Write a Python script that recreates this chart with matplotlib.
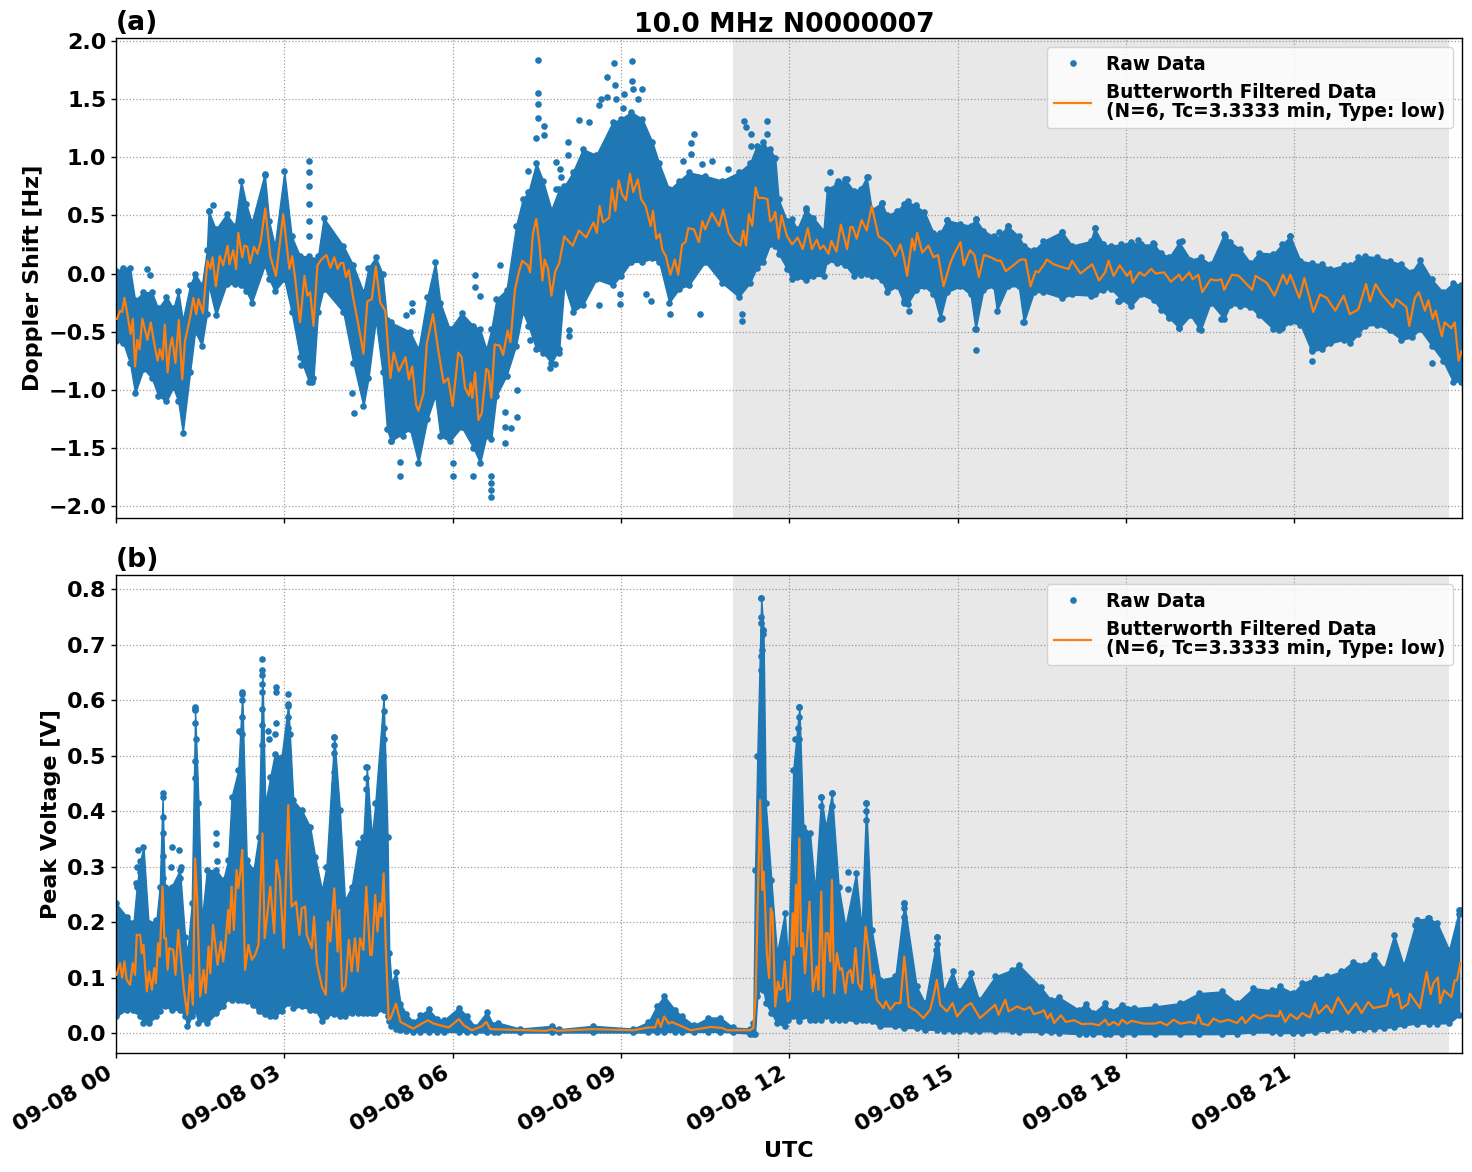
import numpy as np
import matplotlib
matplotlib.use('Agg')
import matplotlib.pyplot as plt
import matplotlib.dates as mdates

# Doppler shift: extent of the raw samples through the day (hours, Hz)
doppler_env_t = [0, .13, .25, .34, .49, .64, .75, .9, 1.02, 1.11, 1.19, 1.32, 1.41, 1.53, 1.62, 1.65, 1.78, 1.97, 2.12, 2.23, 2.32, 2.42, 2.65, 2.73, 2.83, 3.0, 3.13, 3.28, 3.44, 3.52, 3.6, 3.7, 4.05, 4.23, 4.41, 4.5, 4.63, 4.75, 4.83, 4.9, 5.24, 5.39, 5.55, 5.69, 5.78, 5.95, 6.16, 6.37, 6.49, 6.6, 6.69, 6.78, 6.96, 7.13, 7.25, 7.35, 7.49, 7.61, 7.76, 7.9, 7.99, 8.14, 8.32, 8.56, 8.85, 9.0, 9.18, 9.38, 9.56, 9.68, 9.86, 10.04, 10.21, 10.5, 10.8, 11.1, 11.3, 11.42, 11.54,
                 11.66, 11.75, 11.81, 11.96, 12.05, 12.14, 12.29, 12.43, 12.61, 12.67, 12.85, 13.0, 13.15, 13.27, 13.38, 13.47, 13.65, 13.74, 13.92, 14.04, 14.11, 14.26, 14.41, 14.57, 14.69, 14.81, 15.05, 15.23, 15.32, 15.46, 15.64, 15.7, 15.89, 16.09, 16.18, 16.36, 16.53, 16.86, 17.04, 17.37, 17.44, 17.6,
                 17.73, 17.91, 18.09, 18.27, 18.5, 18.62, 18.77, 18.95, 19.15, 19.33, 19.51, 19.75, 19.86, 20.04, 20.22, 20.37, 20.63, 20.78, 20.93, 21.11, 21.31, 21.49, 21.64, 21.88, 21.99, 22.14, 22.26, 22.47, 22.7, 22.91, 23.09, 23.24, 23.45, 23.65, 23.83, 23.98]
doppler_hi = [.02, .05, .05, -.23, -.16, -.16, -.3, -.2, -.3, -.15, -.4, -.1, 0, -.1, .2, .54, .38, .51, .41, .8, .6, .44, .86, .45, .24, .88, .32, .15, .15, .12, .15, .48, .24, .07, -.16, .05, .14, 0, -.4, -.42, -.5, -.65, -.2, .1, -.25, -.48, -.34, -.45, -.48, -.65, -.48, -.22, -.14, .41, .64, .7, .95, .8, .55, .73, .75, .87, 1.07, 1.02, 1.3, 1.33, 1.39, 1.33, 1.13, .95, .72, .8, .87, .84, .8, .87, .95, 1.1, 1.1,
              1.07, .99, .64, .45, .47, .38, .55, .48, .37, .73, .77, .81, .71, .73, .83, .55, .61, .5, .54, .6, .62, .58, .53, .35, .35, .46, .43, .41, .47, .37, .32, .3, .41, .32, .24, .2, .28, .36, .24, .28, .39, .25,
              .24, .25, .27, .25, .25, .18, .14, .27, .12, .14, .08, .34, .27, .21, .09, .18, .17, .25, .32, .11, .09, .08, .04, .07, .07, .14, .15, .14, .11, .08, .01, .12, -.05, -.16, -.08, -.1]
doppler_lo = [-.58, -.6, -.77, -1.03, -.82, -.9, -1.05, -1.1, -.98, -1.1, -1.37, -.85, -.5, -.62, -.35, -.1, -.36, -.09, -.09, -.1, -.15, -.25, .07, -.05, -.15, -.05, -.33, -.72, -.93, -.9, -.33, -.13, -.33, -.77, -1.14, -.9, -.4, -.85, -1.34, -1.44, -1.34, -1.63, -1.25, -1.05, -1.4, -1.44, -1.32, -1.5, -1.63, -1.4, -1.42, -1.05, -.88, -.62, -.33, -.45, -.65, -.68, -.77, -.65, -.1, -.33, -.27, -.05, -.1, -.02, .1, .1, .13, .1, -.25, -.13, -.1, .1, -.08, -.2, -.08, .05, .1,
              .25, .24, .17, .04, -.05, -.03, -.06, -.02, -.02, .11, .09, .07, -.02, -.01, 0, -.02, -.06, -.16, -.11, -.25, -.26, -.14, -.11, -.18, -.39, -.16, -.11, -.18, -.48, -.14, -.11, -.32, -.11, -.11, -.42, -.16, -.16, -.21, -.18, -.19, -.18, -.14,
              -.13, -.22, -.28, -.18, -.23, -.31, -.38, -.47, -.36, -.49, -.25, -.39, -.27, -.28, -.29, -.36, -.48, -.47, -.42, -.44, -.67, -.65, -.6, -.57, -.6, -.52, -.45, -.44, -.49, -.57, -.55, -.48, -.62, -.75, -.93, -.93]

# Doppler shift: isolated raw samples standing clear of the main cloud
doppler_dots_t = [.56, .61, 1.72, 1.65, 2.65, 3.44, 3.44, 3.44, 3.44, 3.44, 3.44, 3.29, 3.5, 4.25, 4.21, 4.91, 5.07, 5.07, 5.11, 5.27, 5.27, 5.16, 7.52, 7.52, 7.52, 7.52, 7.63, 7.63, 7.49, 7.34, 6.4, 6.4, 6.49, 6.01, 6.01, 6.37, 6.69, 6.69, 6.69, 6.69, 7.15, 7.15, 6.93, 6.93, 7.04, 6.94, 6.84, 8.87, 9.19, 8.76, 9.19, 8.89, 9.21, 9.37, 9.05, 8.64, 8.76, 8.91, 9.3, 8.6, 9.03, 8.25, 8.43, 8.05, 8.05, 7.85, 7.91, 7.94, 7.85, 10.31, 10.25, 10.25, 10.11, 10.63, 10.45, 9.86, 8.6, 8.99, 8.99, 9.45, 9.53, 9.87, 10.4, 11.16, 11.16, 8.08, 8.08, 7.37, 7.82, 7.73, 7.9, 11.19, 11.22, 11.32, 11.6, 11.6, 11.54, 11.32, 10.91, 12.72, 12.87, 13.02, 13.4, 12.3, 13.65, 14.13, 14.04, 14.73, 15.32, 15.31, 16.16, 15.33, 14.81, 15.89, 15.73, 16.86, 17.44, 17.87, 14.26, 14.1, 18.21, 18.49, 19, 19.76, 19.76, 20.93, 20.93, 17.85, 18.77, 18.94, 19.3, 19.7, 20.72, 20.89, 21.31, 21.32, 23.45, 21.48]
doppler_dots = [.04, -.01, .59, .54, .85, .97, .87, .75, .6, .45, .32, -.79, -.93, -1.2, -1.03, -1.44, -1.62, -1.74, -1.4, -.25, -.32, -.36, 1.84, 1.55, 1.46, 1.34, 1.27, 1.19, 1.17, .88, -.01, -.12, -.19, -1.63, -1.74, -1.74, -1.74, -1.8, -1.86, -1.92, -1.0, -1.23, -1.19, -1.32, -1.33, -1.46, .07, 1.81, 1.83, 1.69, 1.66, 1.62, 1.59, 1.59, 1.54, 1.5, 1.52, 1.5, 1.5, 1.45, 1.42, 1.32, 1.3, 1.13, 1.02, .96, .9, .83, .73, 1.2, 1.12, 1.03, .97, .97, .94, .73, -.27, -.18, -.26, -.18, -.24, -.35, -.35, -.41, -.35, -.49, -.54, -.57, -.78, -.81, -.68, 1.31, 1.26, 1.2, 1.31, 1.2, 1.13, 1.1, .9, .87, .8, .81, .83, .56, .61, -.32, -.24, -.38, -.66, -.48, -.42, .47, .46, .41, .36, .36, .39, -.24, .59, .61, .29, .26, .28, .32, .27, .32, .25, -.24, -.37, -.47, -.48, -.39, -.49, -.41, -.75, -.65, -.77, -.62]

# Doppler shift: filtered trace
doppler_filt_t = [.02, .07, .11, .15, .2, .26, .3, .34, .38, .42, .47, .52, .56, .62, .67, .74, .78, .83, .87, .92, .96, 1.0, 1.06, 1.12, 1.18, 1.23, 1.32, 1.38, 1.43, 1.47, 1.55, 1.63, 1.68, 1.72, 1.78, 1.85, 1.91, 1.99, 2.02, 2.09, 2.14, 2.18, 2.25, 2.29, 2.34, 2.39, 2.46, 2.52, 2.58, 2.66, 2.75, 2.85, 2.98, 3.09, 3.14, 3.19, 3.28, 3.36, 3.41, 3.46, 3.52, 3.59, 3.66, 3.75, 3.82, 3.89, 3.95, 4.0, 4.05, 4.1, 4.15, 4.22, 4.32, 4.41, 4.48, 4.56, 4.63, 4.71, 4.8, 4.89, 4.95, 5.04, 5.16, 5.22, 5.28, 5.35, 5.39, 5.48, 5.54, 5.65, 5.75, 5.84, 5.92, 6.0, 6.1, 6.16, 6.22, 6.29, 6.32, 6.35, 6.4, 6.46, 6.52, 6.6, 6.64, 6.69, 6.75, 6.84, 6.9, 6.98, 7.03, 7.11, 7.18, 7.24, 7.34, 7.38, 7.43, 7.49, 7.55, 7.6, 7.64, 7.7, 7.76, 7.83, 7.9, 7.99, 8.08, 8.14, 8.25, 8.38, 8.51, 8.57, 8.62, 8.68, 8.79, 8.84, 8.9, 8.96, 9.02, 9.09, 9.16, 9.22, 9.3, 9.36, 9.44, 9.53, 9.57, 9.63, 9.69, 9.74, 9.8, 9.88, 9.96, 10.02, 10.09, 10.15, 10.2, 10.3, 10.39, 10.45, 10.5, 10.62, 10.75, 10.82, 10.92, 11.01, 11.13, 11.18, 11.23, 11.28, 11.34, 11.4, 11.45, 11.55, 11.61, 11.66, 11.71, 11.75, 11.81, 11.86, 11.96, 12.05, 12.15, 12.24, 12.33, 12.4, 12.49, 12.55, 12.61, 12.7, 12.75, 12.84, 12.92, 13.03, 13.09, 13.13, 13.2, 13.29, 13.38, 13.47, 13.59, 13.71, 13.8, 13.89, 13.98, 14.04, 14.1, 14.19, 14.23, 14.28, 14.37, 14.48, 14.57, 14.65, 14.75, 14.87, 14.94, 15.05, 15.11, 15.22, 15.3, 15.38, 15.47, 15.59, 15.71, 15.77, 15.86, 16.12, 16.21, 16.3, 16.39, 16.44, 16.53, 16.59, 16.71, 16.89, 16.98, 17.04, 17.19, 17.4, 17.52, 17.63, 17.69, 17.78, 17.89, 18.02, 18.08, 18.12, 18.24, 18.33, 18.45, 18.53, 18.68, 18.8, 18.95, 19.0, 19.13, 19.19, 19.29, 19.36, 19.51, 19.61, 19.7, 19.75, 19.89, 20.01, 20.13, 20.25, 20.31, 20.51, 20.65, 20.8, 20.87, 20.93, 21.09, 21.18, 21.34, 21.46, 21.58, 21.73, 21.88, 21.99, 22.14, 22.28, 22.35, 22.45, 22.56, 22.76, 22.82, 23.0, 23.05, 23.15, 23.22, 23.33, 23.39, 23.47, 23.52, 23.63, 23.68, 23.8, 23.86, 23.93, 23.98]
doppler_filt = [-.39, -.32, -.33, -.21, -.34, -.52, -.39, -.8, -.57, -.65, -.39, -.49, -.57, -.42, -.57, -.75, -.65, -.74, -.44, -.85, -.64, -.55, -.77, -.4, -.91, -.58, -.38, -.21, -.35, -.22, -.34, .11, .04, .14, -.11, .15, .07, .24, .08, .2, .04, .35, .14, .24, .23, .09, .23, .17, .28, .56, .15, -.02, .51, .04, .15, -.03, -.42, -.02, -.19, -.16, -.45, .07, .12, .16, .05, .14, .04, .09, .09, -.03, .03, -.19, -.44, -.69, -.24, -.22, .06, -.25, -.32, -.9, -.68, -.84, -.72, -.91, -.8, -1.13, -1.18, -1.03, -.6, -.35, -.68, -.94, -.9, -1.14, -.68, -.72, -.98, -1.05, -.94, -1.07, -.85, -1.26, -1.2, -.82, -.84, -1.07, -.61, -.62, -.7, -.49, -.59, -.14, .01, .11, .07, .01, .34, .47, .24, -.06, .12, .04, -.19, .02, .09, .32, .27, .24, .37, .31, .44, .35, .58, .44, .48, .73, .54, .8, .68, .63, .86, .7, .81, .64, .58, .41, .54, .3, .34, .2, .15, -.01, .12, -.01, .25, .27, .39, .38, .27, .45, .38, .52, .41, .55, .35, .28, .24, .37, .24, .51, .41, .74, .65, .65, .64, .45, .47, .53, .3, .5, .32, .25, .31, .21, .39, .21, .29, .21, .24, .17, .28, .19, .42, .21, .4, .4, .3, .46, .37, .58, .32, .28, .24, .15, .25, .14, -.02, .3, .2, .35, .18, .24, .14, .16, -.11, .09, .17, .27, .07, .2, .16, -.03, .16, .14, .11, .11, .02, .12, .12, -.11, .02, .01, .07, .12, .08, .05, .04, .11, 0, .08, -.06, .01, .11, -.02, .07, -.02, .02, -.08, .01, -.02, .04, 0, .01, -.07, -.01, -.06, .01, -.05, -.01, -.16, -.05, -.06, -.05, -.14, -.01, -.02, -.08, -.14, -.02, -.08, -.19, -.01, -.09, -.01, -.21, -.04, -.33, -.18, -.21, -.32, -.19, -.35, -.31, -.09, -.24, -.09, -.18, -.29, -.22, -.29, -.45, -.21, -.16, -.32, -.23, -.39, -.32, -.54, -.42, -.47, -.42, -.75, -.67]

# Peak voltage: extent of the raw samples through the day (hours, V)
voltage_env_t = [0, .19, .31, .37, .43, .49, .58, .72, .78, .83, .87, .99, 1.14, 1.23, 1.27, 1.35, 1.41, 1.47, 1.53, 1.62, 1.79, 1.91, 2.0, 2.06, 2.18, 2.25, 2.33, 2.45, 2.54, 2.61, 2.66, 2.75, 2.83, 2.95, 3.07, 3.16, 3.31, 3.46, 3.55, 3.67, 3.75, 3.89, 3.99, 4.08, 4.2, 4.32, 4.41, 4.47, 4.56, 4.62, 4.77, 4.84, 4.87, 4.91,
                 4.99, 5.07, 5.17, 5.3, 5.42, 5.57, 5.72, 5.84, 6.11, 6.26, 6.4, 6.61, 6.73, 6.8, 7.2, 7.77, 7.9, 8.5, 9.22, 9.49, 9.64, 9.77, 9.97, 10.09, 10.3, 10.56, 10.77, 11.0, 11.3, 11.36, 11.39, 11.43, 11.5, 11.54, 11.58, 11.68, 11.78, 11.92, 11.98, 12.07, 12.18, 12.25, 12.37, 12.46, 12.57, 12.65, 12.76, 12.88, 13.0, 13.19, 13.29, 13.37, 13.47, 13.62, 13.89, 14.05, 14.27, 14.42, 14.64, 14.75, 14.91, 15.02, 15.23, 15.38, 15.67, 15.97, 16.09, 16.48, 16.66, 16.8, 17.16, 17.28, 17.42, 17.63, 17.72, 17.93, 18.14, 18.52, 18.97, 19.3, 19.72, 19.98, 20.27, 20.6, 20.75, 20.98, 21.14, 21.37, 21.59, 21.84, 22.05, 22.25, 22.42, 22.6, 22.78, 22.95, 23.18, 23.4, 23.55, 23.76, 23.94]
voltage_hi = [.234, .21, .198, .264, .31, .336, .198, .204, .264, .426, .264, .264, .294, .174, .144, .234, .582, .414, .204, .294, .294, .276, .312, .426, .474, .612, .312, .294, .354, .654, .414, .462, .504, .498, .594, .42, .402, .372, .318, .258, .3, .534, .402, .24, .264, .342, .354, .48, .354, .414, .606, .354, .144, .09,
              .11, .053, .035, .02, .032, .043, .026, .023, .046, .03, .011, .038, .014, .019, .008, .013, .007, .013, .008, .02, .049, .067, .041, .03, .014, .028, .028, .01, .008, .018, .294, .5, .784, .727, .414, .276, .144, .216, .13, .474, .588, .372, .36, .258, .426, .372, .432, .264, .192, .288, .19, .414, .186, .096, .102, .234, .084, .054, .174, .075, .111, .075, .108, .06, .102, .114, .123, .083, .06, .065, .042, .053, .036, .054, .039, .051, .045, .048, .054, .072, .075, .054, .081, .077, .084, .072, .09, .099, .103, .111, .129, .123, .141, .115, .177, .122, .204, .207, .198, .15, .222]
voltage_lo = [.03, .042, .042, .04, .03, .018, .018, .03, .04, .05, .048, .042, .042, .03, .012, .03, .04, .018, .025, .018, .036, .048, .063, .06, .06, .06, .057, .05, .039, .04, .035, .03, .03, .04, .054, .045, .048, .042, .042, .021, .03, .035, .03, .03, .036, .036, .036, .036, .036, .036, .042, .03, .021, .012,
              .008, .006, .003, .002, .002, .002, .002, .002, .002, .002, .001, .001, .001, .001, .001, .001, .001, .001, .001, .001, .002, .002, .002, .002, .002, .002, .002, .001, -.001, -.001, -.001, .066, .084, .078, .054, .036, .018, .012, .024, .03, .021, .03, .024, .024, .024, .03, .024, .024, .024, .021, .024, .024, .021, .012, .012, .009, .009, .006, .006, .004, .003, .003, .003, .003, .003, .003, .002, .002, .001, 0, -.002, -.002, -.002, -.002, -.002, -.002, -.002, -.002, -.002, -.002, -.002, -.001, .001, .001, 0, 0, 0, .002, .005, .008, .005, .007, .008, .009, .011, .014, .017, .017, .017, .018, .032]

# Peak voltage: raw samples stacked in the narrow bursts
voltage_dots_t = [.4, .38, .36, .43, .83, .83, .84, .83, .83, .99, .98, .99, 1.12, 1.15, 1.14, 1.41, 1.41, 1.41, 1.43, 1.41, 1.4, 2.25, 2.25, 2.25, 2.24, 2.2, 2.61, 2.61, 2.61, 2.61, 2.61, 2.61, 2.61, 2.71, 2.72, 2.86, 2.86, 2.86, 2.83, 3.07, 3.07, 3.07, 3.06, 3.1, 3.89, 3.89, 3.89, 3.88, 3.89, 4.46, 4.46, 4.46, 4.77, 4.77, 4.77, 4.78, 4.76, 1.78, 1.78, 1.8, 11.5, 11.5, 11.5, 11.54, 11.53, 11.52, 11.5, 11.5, 12.18, 12.17, 12.16, 12.18, 12.11, 12.57, 12.57, 12.76, 12.76, 13.37, 13.37, 13.36, 13.04, 13.04, 14.05, 14.05, 14.05, 14.64, 14.64, 14.62, 23.38, 23.34, 23.18, 23.16, 23.95, 23.94]
voltage_dots = [.33, .3, .27, .29, .432, .39, .36, .32, .28, .336, .3, .26, .33, .3, .28, .588, .585, .56, .53, .49, .46, .615, .6, .57, .54, .545, .675, .645, .63, .615, .585, .555, .52, .545, .53, .624, .615, .56, .54, .612, .59, .57, .55, .54, .534, .52, .505, .47, .45, .48, .46, .44, .606, .58, .55, .53, .5, .36, .34, .31, .784, .75, .74, .727, .72, .69, .68, .655, .588, .57, .55, .53, .53, .426, .41, .432, .41, .414, .4, .385, .29, .26, .234, .225, .21, .174, .16, .15, .207, .2, .204, .195, .222, .215]

# Peak voltage: filtered trace
voltage_filt_t = [.01, .07, .11, .15, .19, .25, .3, .34, .37, .43, .46, .49, .55, .59, .64, .68, .71, .75, .78, .83, .86, .89, .92, .95, 1.02, 1.06, 1.11, 1.17, 1.21, 1.27, 1.32, 1.37, 1.41, 1.45, 1.5, 1.56, 1.6, 1.65, 1.68, 1.73, 1.81, 1.87, 1.91, 1.95, 2.0, 2.02, 2.06, 2.1, 2.15, 2.18, 2.22, 2.25, 2.3, 2.36, 2.42, 2.48, 2.54, 2.61, 2.65, 2.75, 2.82, 2.86, 2.92, 2.99, 3.07, 3.13, 3.21, 3.27, 3.31, 3.37, 3.4, 3.49, 3.53, 3.58, 3.67, 3.74, 3.78, 3.82, 3.89, 3.95, 3.98, 4.03, 4.09, 4.15, 4.2, 4.26, 4.31, 4.35, 4.41, 4.46, 4.53, 4.56, 4.62, 4.66, 4.7, 4.73, 4.77, 4.81, 4.86, 4.89, 4.99, 5.07, 5.22, 5.3, 5.45, 5.56, 5.66, 5.93, 6.11, 6.2, 6.34, 6.52, 6.6, 6.67, 7.67, 7.77, 7.86, 8.5, 9.22, 9.49, 9.61, 9.66, 9.71, 9.77, 9.85, 9.91, 9.97, 10.09, 10.24, 10.6, 10.81, 10.89, 11.3, 11.36, 11.4, 11.48, 11.52, 11.54, 11.56, 11.6, 11.64, 11.67, 11.7, 11.75, 11.8, 11.83, 11.88, 11.92, 11.97, 12.01, 12.06, 12.08, 12.12, 12.14, 12.18, 12.21, 12.24, 12.28, 12.36, 12.42, 12.49, 12.52, 12.57, 12.61, 12.65, 12.69, 12.73, 12.76, 12.8, 12.85, 12.9, 12.94, 13.0, 13.04, 13.09, 13.13, 13.18, 13.23, 13.29, 13.36, 13.42, 13.47, 13.51, 13.56, 13.68, 13.72, 13.8, 13.89, 13.98, 14.05, 14.13, 14.27, 14.39, 14.51, 14.57, 14.63, 14.69, 14.81, 14.91, 14.99, 15.14, 15.24, 15.4, 15.57, 15.67, 15.73, 15.85, 15.91, 16.06, 16.19, 16.29, 16.36, 16.48, 16.54, 16.6, 16.66, 16.72, 16.84, 16.93, 17.08, 17.22, 17.37, 17.52, 17.63, 17.69, 17.78, 17.87, 17.93, 18.02, 18.1, 18.32, 18.52, 18.61, 18.73, 18.85, 18.97, 19.15, 19.24, 19.29, 19.35, 19.47, 19.56, 19.68, 19.83, 19.98, 20.07, 20.13, 20.27, 20.39, 20.51, 20.72, 20.75, 20.84, 20.93, 21.05, 21.14, 21.28, 21.37, 21.43, 21.58, 21.67, 21.78, 21.96, 22.1, 22.2, 22.32, 22.41, 22.65, 22.72, 22.76, 22.85, 22.91, 23.03, 23.06, 23.24, 23.36, 23.43, 23.48, 23.56, 23.6, 23.67, 23.8, 23.86, 23.9, 23.96]
voltage_filt = [.105, .126, .1, .129, .096, .087, .126, .105, .177, .177, .144, .159, .075, .111, .078, .117, .09, .162, .138, .264, .171, .171, .114, .153, .15, .105, .186, .12, .078, .033, .105, .051, .315, .234, .066, .114, .072, .156, .108, .195, .123, .165, .129, .162, .222, .18, .264, .186, .294, .261, .294, .33, .114, .159, .132, .141, .159, .36, .171, .264, .18, .312, .276, .153, .411, .228, .237, .177, .225, .228, .177, .153, .21, .126, .084, .069, .201, .165, .261, .147, .222, .075, .084, .168, .111, .171, .111, .171, .15, .264, .141, .141, .249, .183, .234, .21, .288, .15, .024, .026, .053, .02, .012, .008, .017, .023, .017, .01, .025, .014, .005, .012, .02, .007, .004, .007, .004, .007, .005, .01, .01, .025, .011, .03, .017, .02, .017, .012, .005, .011, .009, .005, .005, .009, .066, .42, .258, .291, .255, .144, .099, .225, .216, .048, .093, .078, .081, .129, .057, .06, .216, .141, .267, .156, .351, .156, .18, .108, .237, .075, .12, .078, .255, .066, .18, .18, .129, .276, .072, .144, .114, .117, .072, .108, .114, .09, .153, .09, .078, .192, .144, .081, .105, .06, .045, .057, .042, .054, .054, .138, .048, .039, .027, .042, .066, .096, .051, .039, .054, .03, .048, .054, .027, .042, .051, .033, .06, .039, .048, .042, .047, .034, .038, .041, .026, .035, .018, .032, .02, .023, .016, .017, .014, .024, .014, .02, .014, .024, .017, .022, .017, .017, .02, .014, .024, .017, .02, .017, .033, .017, .014, .026, .02, .024, .018, .029, .018, .033, .026, .032, .03, .04, .02, .034, .025, .036, .028, .054, .035, .05, .036, .064, .035, .054, .036, .056, .045, .05, .08, .065, .071, .044, .053, .071, .045, .11, .07, .09, .1, .054, .077, .065, .095, .095, .126]

base_time = np.datetime64('2024-09-08T00:00:00')

def to_time(hours):
    return base_time + (np.array(hours) * 3600).astype('int64') * np.timedelta64(1, 's')

def draw_panel(ax, env_t, hi, lo, dots_t, dots, filt_t, filt):
    ax.axvspan(to_time([11.0])[0], to_time([23.76])[0], color='0.5', alpha=0.18, lw=0, zorder=1)
    ax.grid(True, linestyle=':', color='#a0a0a0', linewidth=0.9, zorder=1.5)
    ax.set_axisbelow(True)
    # raw cloud, its edge samples, and the stragglers
    ax.fill_between(to_time(env_t), lo, hi, color='tab:blue', linewidth=1, zorder=2)
    ax.plot(to_time(env_t), hi, '.', color='tab:blue', ms=7.5, zorder=2)
    ax.plot(to_time(env_t), lo, '.', color='tab:blue', ms=7.5, zorder=2)
    ax.plot(to_time(dots_t), dots, '.', color='tab:blue', ms=7.5, zorder=2, label='Raw Data')
    ax.plot(to_time(filt_t), filt, color='tab:orange', lw=1.6, zorder=3,
            label='Butterworth Filtered Data\n(N=6, Tc=3.3333 min, Type: low)')
    ax.set_xlim(to_time([0])[0], to_time([23.99])[0])
    ax.xaxis.set_major_locator(mdates.HourLocator(byhour=range(0, 24, 3)))
    ax.xaxis.set_major_formatter(mdates.DateFormatter('%m-%d %H'))
    ax.tick_params(axis='both', width=1, labelsize=16)
    for spine in ax.spines.values():
        spine.set_linewidth(1)
    leg = ax.legend(loc='upper right', fontsize=13.33, framealpha=0.8)
    for text in leg.get_texts():
        text.set_linespacing(1.0)

plt.rcParams['font.weight'] = 'bold'
plt.rcParams['axes.labelweight'] = 'bold'
plt.rcParams['axes.titleweight'] = 'bold'

W, H = 1472, 1172
fig = plt.figure(figsize=(W / 100, H / 100), dpi=100)
ax0 = fig.add_axes([116 / W, 1 - 518 / H, 1346 / W, 480 / H])
ax1 = fig.add_axes([116 / W, 1 - 1053 / H, 1346 / W, 478 / H])

draw_panel(ax0, doppler_env_t, doppler_hi, doppler_lo, doppler_dots_t, doppler_dots, doppler_filt_t, doppler_filt)
draw_panel(ax1, voltage_env_t, voltage_hi, voltage_lo, voltage_dots_t, voltage_dots, voltage_filt_t, voltage_filt)

ax0.set_ylim(-2.103, 2.026)
ax1.set_ylim(-0.036, 0.826)
ax0.set_yticks(np.arange(-2, 2.1, 0.5))
ax1.set_yticks(np.arange(0, 0.81, 0.1))

ax0.text(0.4963, 1.0, '10.0 MHz N0000007', transform=ax0.transAxes, ha='center', va='bottom',
         fontsize=19.2, fontweight='bold')
ax0.set_title('(a)', loc='left', fontsize=19.2, pad=6)
ax1.set_title('(b)', loc='left', fontsize=19.2, pad=6)
ax0.set_ylabel('Doppler Shift [Hz]', fontsize=16)
ax1.set_ylabel('Peak Voltage [V]', fontsize=16)
ax1.set_xlabel('UTC', fontsize=16)

ax0.tick_params(axis='x', labelbottom=False)
for label in ax1.get_xticklabels():
    label.set_rotation(30)
    label.set_ha('right')

fig.savefig('out.png', dpi=100)
